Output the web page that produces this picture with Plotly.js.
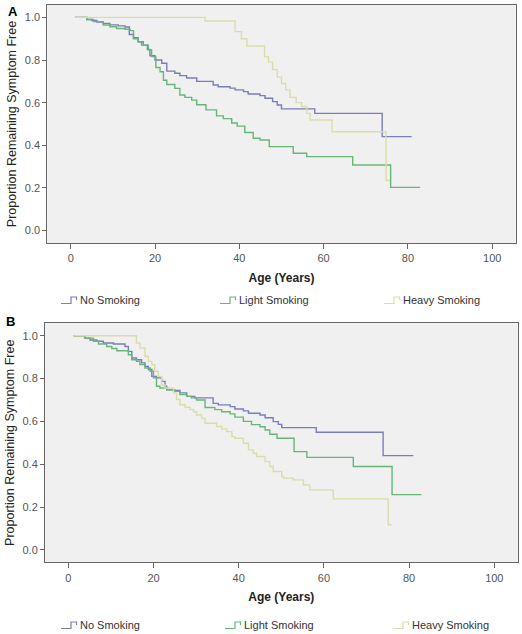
<!DOCTYPE html>
<html>
<head>
<meta charset="utf-8">
<script src="https://cdn.plot.ly/plotly-3.0.1.min.js"></script>
<style>
html,body{margin:0;padding:0;background:#fff;}
#chart{width:522px;height:634px;}
</style>
</head>
<body>
<div id="chart"></div>
<script>
// ---------------- DATA ----------------
var seriesNames = ["No Smoking", "Light Smoking", "Heavy Smoking"];
var xTickVals = [0, 20, 40, 60, 80, 100];
var yTickVals = [0.0, 0.2, 0.4, 0.6, 0.8, 1.0];
var yTickText = ["0.0", "0.2", "0.4", "0.6", "0.8", "1.0"];
var xTitle = "Age (Years)";
var yTitle = "Proportion Remaining Symptom Free";
var panelLabels = ["A", "B"];

// Panel A
var ageA_none = [1, 3.8, 5, 6.2, 7.7, 9.3, 11.3, 12.9, 13.9, 14.9, 16, 17.2, 18.2, 18.8, 20, 21.6, 22.8, 24.7, 25.9, 27.5, 29.9, 33.8, 35, 37.8, 39, 41, 42.1, 44.9, 46.1, 47.9, 49, 50, 57.9, 73.9, 80.9];
var survA_none = [1.0, 0.99, 0.985, 0.978, 0.972, 0.965, 0.96, 0.955, 0.92, 0.905, 0.886, 0.87, 0.85, 0.82, 0.80, 0.785, 0.748, 0.738, 0.727, 0.716, 0.70, 0.683, 0.675, 0.668, 0.66, 0.652, 0.641, 0.633, 0.621, 0.605, 0.589, 0.571, 0.55, 0.441, 0.441];

var ageA_light = [1, 3.8, 5.4, 7.7, 9.3, 10.9, 12.9, 14.1, 14.9, 16, 16.8, 18.4, 19.2, 20.2, 21.2, 22, 22.8, 24.7, 25.9, 27.1, 28.7, 29.9, 32.1, 34.6, 36.2, 38.2, 39.5, 41.3, 43.3, 44.9, 47.1, 52.8, 56, 66.9, 75.9, 82.9];
var survA_light = [1.0, 0.99, 0.98, 0.964, 0.956, 0.948, 0.944, 0.938, 0.90, 0.885, 0.87, 0.847, 0.816, 0.765, 0.745, 0.705, 0.685, 0.667, 0.636, 0.625, 0.612, 0.59, 0.566, 0.538, 0.525, 0.505, 0.49, 0.46, 0.433, 0.425, 0.394, 0.363, 0.347, 0.308, 0.203, 0.203];

var ageA_heavy = [1, 31.9, 39, 40.5, 41.8, 46, 46.9, 47.9, 49, 50, 51, 52, 53.5, 54.8, 56, 56.8, 62, 74.8, 75.7];
var survA_heavy = [1.0, 0.983, 0.933, 0.90, 0.866, 0.816, 0.79, 0.755, 0.72, 0.69, 0.66, 0.625, 0.60, 0.582, 0.55, 0.519, 0.464, 0.235, 0.235];

// Panel B
var ageB_none = [1.2, 3.9, 5.1, 6.7, 8.2, 10.6, 13.3, 14.1, 14.9, 16, 17.2, 18, 18.8, 19.6, 20.7, 21.9, 22.7, 23.1, 24.7, 26.2, 27.8, 29.7, 34.0, 35.2, 38, 39.1, 41.1, 42.3, 45, 46.2, 48.1, 49.3, 50.1, 58.2, 73.9, 81];
var survB_none = [1.0, 0.989, 0.98, 0.974, 0.966, 0.961, 0.95, 0.927, 0.896, 0.888, 0.873, 0.857, 0.842, 0.81, 0.803, 0.787, 0.764, 0.748, 0.744, 0.733, 0.717, 0.71, 0.684, 0.677, 0.669, 0.658, 0.649, 0.638, 0.63, 0.617, 0.599, 0.586, 0.571, 0.549, 0.44, 0.44];

var ageB_light = [1.2, 3.9, 5.9, 7.1, 9, 10.2, 11.4, 14.1, 14.9, 16, 16.8, 18, 19.2, 20, 20.7, 21.5, 23.1, 25, 26.2, 27.8, 28.9, 30.1, 32.1, 34.4, 36, 38, 39.1, 41.1, 43, 45, 46.2, 47.3, 49, 53, 56, 66.9, 76, 82.9];
var survB_light = [1.0, 0.989, 0.974, 0.961, 0.95, 0.94, 0.93, 0.911, 0.888, 0.88, 0.865, 0.849, 0.834, 0.803, 0.764, 0.756, 0.748, 0.74, 0.725, 0.717, 0.71, 0.70, 0.665, 0.655, 0.645, 0.635, 0.62, 0.60, 0.585, 0.575, 0.56, 0.54, 0.521, 0.459, 0.432, 0.389, 0.258, 0.258];

var ageB_heavy = [1.2, 16, 16.8, 18, 18.8, 19.6, 20.3, 21.1, 21.9, 22.7, 24.7, 25.4, 26.2, 27.4, 28.6, 29.4, 30.1, 31.3, 32.1, 34.8, 36, 37.2, 38.4, 39.1, 41.1, 42.3, 43.4, 44.2, 46.2, 47.3, 48.1, 50.1, 50.5, 52.8, 55.2, 56.7, 62.2, 75.1, 75.9];
var survB_heavy = [1.0, 0.966, 0.943, 0.904, 0.88, 0.865, 0.834, 0.81, 0.77, 0.756, 0.733, 0.702, 0.678, 0.666, 0.655, 0.645, 0.63, 0.614, 0.591, 0.576, 0.565, 0.552, 0.529, 0.521, 0.498, 0.467, 0.451, 0.436, 0.412, 0.389, 0.366, 0.342, 0.335, 0.327, 0.303, 0.28, 0.238, 0.117, 0.117];

// ---------------- STYLE ----------------
var colors = ["#787dbb", "#68b57a", "#dcdcaa"];
var W = 522, H = 634;
function px(x){ return x / W; }
function py(y){ return 1 - y / H; }

var FONT = "'Liberation Sans', Arial, sans-serif";

function trace(x, y, i, xa, ya){
  return {
    x: x, y: y, type: "scatter", mode: "lines",
    line: {shape: "hv", color: colors[i], width: 1.4},
    name: seriesNames[i], xaxis: xa, yaxis: ya, showlegend: false,
    hoverinfo: "x+y+name"
  };
}

var data = [
  trace(ageA_none, survA_none, 0, "x", "y"),
  trace(ageA_light, survA_light, 1, "x", "y"),
  trace(ageA_heavy, survA_heavy, 2, "x", "y"),
  trace(ageB_none, survB_none, 0, "x2", "y2"),
  trace(ageB_light, survB_light, 1, "x2", "y2"),
  trace(ageB_heavy, survB_heavy, 2, "x2", "y2")
];

function xAxis(domain, range, anchor){
  return {
    domain: domain, range: range, anchor: anchor,
    tickvals: xTickVals, ticks: "outside", ticklen: 5, tickcolor: "#666", tickwidth: 1,
    showline: true, mirror: true, linecolor: "#666", linewidth: 1,
    showgrid: false, zeroline: false,
    tickfont: {family: FONT, size: 11, color: "#555"},
    title: {text: "<b>" + xTitle + "</b>", font: {family: FONT, size: 12, color: "#222"}, standoff: 10}
  };
}
function yAxis(domain, anchor){
  return {
    domain: domain, range: [-0.058, 1.058], anchor: anchor,
    tickvals: yTickVals, ticktext: yTickText, ticks: "outside", ticklen: 4, tickcolor: "#666", tickwidth: 1,
    showline: true, mirror: true, linecolor: "#666", linewidth: 1,
    showgrid: false, zeroline: false,
    tickfont: {family: FONT, size: 11, color: "#555"},
    title: {text: yTitle, font: {family: FONT, size: 12.5, color: "#222"}, standoff: 5}
  };
}

var annotations = [
  {text: "<b>" + panelLabels[0] + "</b>", x: px(6), y: py(2), xref: "paper", yref: "paper", xanchor: "left", yanchor: "top", showarrow: false, font: {family: FONT, size: 13, color: "#000"}},
  {text: "<b>" + panelLabels[1] + "</b>", x: px(4), y: py(312), xref: "paper", yref: "paper", xanchor: "left", yanchor: "top", showarrow: false, font: {family: FONT, size: 13, color: "#000"}}
];
var shapes = [];

function legendRow(textXs, yc){
  for (var i = 0; i < seriesNames.length; i++){
    var xt = textXs[i];
    annotations.push({text: seriesNames[i], x: px(xt), y: py(yc), xref: "paper", yref: "paper",
      xanchor: "left", yanchor: "middle", showarrow: false,
      font: {family: FONT, size: 11, color: "#333"}});
    var p = "M " + px(xt - 17) + "," + py(yc + 3.5) +
            " L " + px(xt - 7) + "," + py(yc + 3.5) +
            " L " + px(xt - 7) + "," + py(yc - 3) +
            " L " + px(xt - 1.5) + "," + py(yc - 3) +
            " L " + px(xt - 1.5) + "," + py(yc);
    shapes.push({type: "path", path: p, xref: "paper", yref: "paper",
      line: {color: colors[i], width: 1.2}});
  }
}
legendRow([78, 237, 401], 300);
legendRow([78, 242, 410], 625);

var layout = {
  width: W, height: H,
  margin: {l: 0, r: 0, t: 0, b: 0},
  paper_bgcolor: "#ffffff",
  plot_bgcolor: "#f0f0f0",
  showlegend: false,
  xaxis: xAxis([px(47.3), px(515.7)], [-5.55, 105.57], "y"),
  yaxis: yAxis([py(243), py(5)], "x"),
  xaxis2: xAxis([px(45), px(517.7)], [-5.47, 105.49], "y2"),
  yaxis2: yAxis([py(562.3), py(323.3)], "x2"),
  annotations: annotations,
  shapes: shapes,
  font: {family: FONT}
};

Plotly.newPlot("chart", data, layout, {displayModeBar: false, staticPlot: true});
</script>
</body>
</html>
